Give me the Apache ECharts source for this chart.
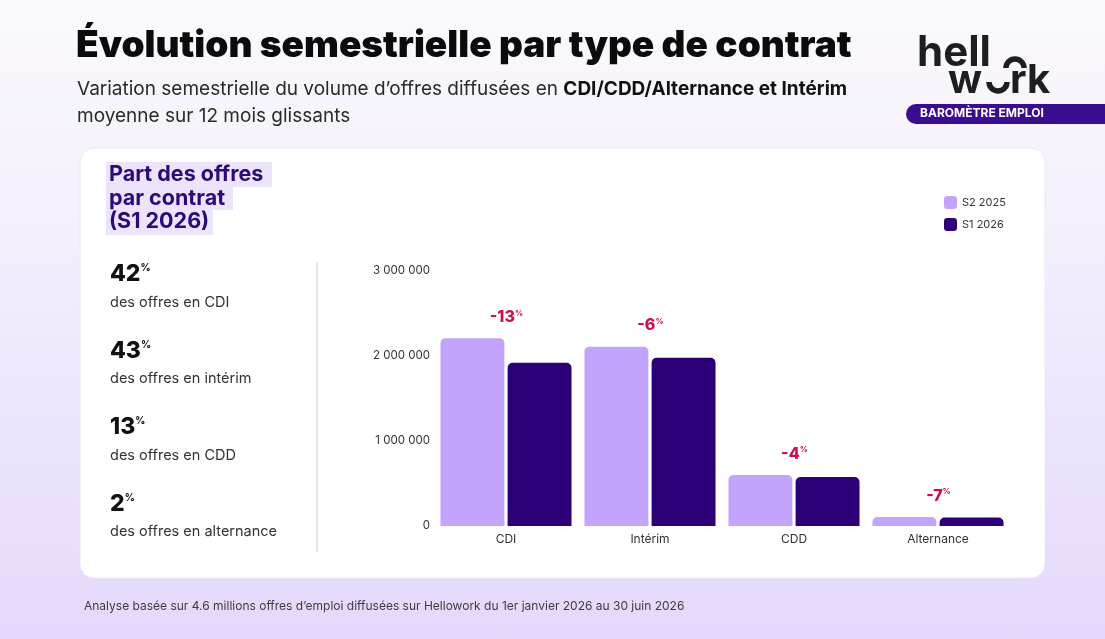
<!DOCTYPE html>
<html>
<head>
<meta charset="utf-8">
<script src="https://cdn.jsdelivr.net/npm/echarts@6/dist/echarts.min.js"></script>
<style>
  html, body { margin: 0; padding: 0; }
  body { width: 1105px; height: 639px; background: linear-gradient(180deg, #fbfafd 0%, #f3eefc 40%, #e5d8fc 100%); }
  #main { width: 1105px; height: 639px; }
</style>
</head>
<body>
<div id="main"></div>
<script>
// données
const categories = ['CDI', 'Intérim', 'CDD', 'Alternance'];
const s2_2025 = [2210000, 2110000, 600000, 106000];
const s1_2026 = [1920000, 1980000, 576000, 99000];
const variations = ['-13', '-6', '-4', '-7'];
const parts = ['42', '43', '13', '2'];
const partLabels = ['des offres en CDI', 'des offres en intérim', 'des offres en CDD', 'des offres en alternance'];

const FONT = 'Inter, "Noto Sans", sans-serif';
const myChart = echarts.init(document.getElementById('main'), null, { renderer: 'canvas' });

// textes de gauche
const leftTexts = [];
parts.forEach((p, i) => {
  const y = 276 + i * 76.5;
  leftTexts.push({
    type: 'text', left: 110, top: y - 13, z: 10,
    style: {
      text: '{v|' + p + '}{p|%}', font: FONT,
      rich: {
        v: { fontFamily: FONT, fontSize: 23, fontWeight: 800, fill: '#111', lineHeight: 26 },
        p: { fontFamily: FONT, fontSize: 10, fontWeight: 700, fill: '#111', lineHeight: 26, padding: [0, 0, 13, 0] }
      }
    }
  });
  leftTexts.push({
    type: 'text', left: 110, top: y + 19, z: 10,
    style: { text: partLabels[i], fontFamily: FONT, fontSize: 14.5, fill: '#333' }
  });
});

const option = {
  backgroundColor: 'transparent',
  textStyle: { fontFamily: FONT },
  graphic: { elements: [
    // carte blanche
    { type: 'rect', shape: { x: 80, y: 148, width: 965, height: 430, r: 14 }, z: -5,
      style: { fill: '#ffffff', stroke: '#ece6f6', lineWidth: 1 } },
    // titre
    { type: 'text', left: 76, top: 27, z: 10,
      style: { text: 'Évolution semestrielle par type de contrat', fontFamily: FONT, fontSize: 37, fontWeight: 900, fill: '#0b0b0b' } },
    { type: 'text', left: 77, top: 80, z: 10,
      style: {
        text: '{n|Variation semestrielle du volume d’offres diffusées en }{b|CDI/CDD/Alternance et Intérim}\n{n|moyenne sur 12 mois glissants}',
        rich: {
          n: { fontFamily: FONT, fontSize: 19, fill: '#2a2a2a', lineHeight: 27 },
          b: { fontFamily: FONT, fontSize: 19, fontWeight: 700, fill: '#111', lineHeight: 27 }
        }
      } },
    // logo
    { type: 'text', left: 917, top: 32, z: 10,
      style: { text: 'hell', fontFamily: FONT, fontSize: 42, fontWeight: 700, fill: '#1e1e1e' } },
    { type: 'arc', z: 10, shape: { cx: 1015, cy: 68, r: 9, startAngle: Math.PI, endAngle: 2 * Math.PI },
      style: { stroke: '#1e1e1e', lineWidth: 5.5, fill: null } },
    { type: 'text', left: 948, top: 61, z: 10,
      style: { text: 'w', fontFamily: FONT, fontSize: 40, fontWeight: 700, fill: '#1e1e1e' } },
    { type: 'arc', z: 10, shape: { cx: 998, cy: 82, r: 9, startAngle: 0, endAngle: Math.PI },
      style: { stroke: '#1e1e1e', lineWidth: 5.5, fill: null } },
    { type: 'text', left: 1010, top: 61, z: 10,
      style: { text: 'rk', fontFamily: FONT, fontSize: 40, fontWeight: 700, fill: '#1e1e1e', letterSpacing: -1 } },
    { type: 'rect', z: 10, shape: { x: 906, y: 104, width: 220, height: 20, r: [10, 0, 0, 10] },
      style: { fill: '#3a0c8f' } },
    { type: 'text', left: 920, top: 107, z: 11,
      style: { text: 'BAROMÈTRE EMPLOI', fontFamily: FONT, fontSize: 12, fontWeight: 700, fill: '#ffffff' } },
    // encadré titre gauche
    { type: 'rect', z: 1, shape: { x: 106, y: 162, width: 166, height: 25 }, style: { fill: '#ece3fd' } },
    { type: 'rect', z: 1, shape: { x: 106, y: 187, width: 127, height: 23 }, style: { fill: '#ece3fd' } },
    { type: 'rect', z: 1, shape: { x: 106, y: 210, width: 107, height: 25 }, style: { fill: '#ece3fd' } },
    { type: 'text', left: 109, top: 163, z: 10,
      style: { text: 'Part des offres\npar contrat\n(S1 2026)', fontFamily: FONT, fontSize: 21.5, fontWeight: 700, fill: '#2c0a78', lineHeight: 23.5 } },
    // séparateur
    { type: 'rect', z: 1, shape: { x: 316, y: 262, width: 2, height: 290 }, style: { fill: '#e6e6e6' } },
    // note de bas
    { type: 'text', left: 84, top: 600, z: 10,
      style: { text: 'Analyse basée sur 4.6 millions offres d’emploi diffusées sur Hellowork du 1er janvier 2026 au 30 juin 2026', fontFamily: FONT, fontSize: 12, fill: '#3d3d3d' } },
    ...leftTexts
  ] },
  legend: {
    orient: 'vertical', left: 939, top: 191,
    itemWidth: 13, itemHeight: 13, itemGap: 9,
    icon: 'roundRect',
    textStyle: { fontFamily: FONT, fontSize: 11, color: '#333' },
    data: ['S2 2025', 'S1 2026']
  },
  grid: { left: 434, right: 95, top: 271, bottom: 113, containLabel: false },
  xAxis: {
    type: 'category', data: categories,
    axisLine: { show: false }, axisTick: { show: false },
    axisLabel: { fontFamily: FONT, fontSize: 12, color: '#333', margin: 7 }
  },
  yAxis: {
    type: 'value', min: 0, max: 3000000, interval: 1000000,
    splitLine: { show: false }, axisLine: { show: false }, axisTick: { show: false },
    axisLabel: {
      fontFamily: FONT, fontSize: 11.5, color: '#333', margin: 4,
      formatter: v => String(v).replace(/\B(?=(\d{3})+(?!\d))/g, ' ')
    }
  },
  series: [
    {
      name: 'S2 2025', type: 'bar', data: s2_2025,
      barGap: '5%', barCategoryGap: '9%',
      itemStyle: { color: '#c3a4fc', borderRadius: [5, 5, 0, 0] },
      label: {
        show: true, position: 'top', offset: [34, -7],
        formatter: p => '{v|' + variations[p.dataIndex] + '}{p|%}',
        rich: {
          v: { fontFamily: FONT, fontSize: 16, fontWeight: 800, color: '#c8124f', lineHeight: 18 },
          p: { fontFamily: FONT, fontSize: 8, fontWeight: 700, color: '#c8124f', lineHeight: 18, padding: [0, 0, 8, 0] }
        }
      }
    },
    {
      name: 'S1 2026', type: 'bar', data: s1_2026,
      itemStyle: { color: '#2e0077', borderRadius: [5, 5, 0, 0] }
    }
  ]
};

option && myChart.setOption(option);
</script>
</body>
</html>
